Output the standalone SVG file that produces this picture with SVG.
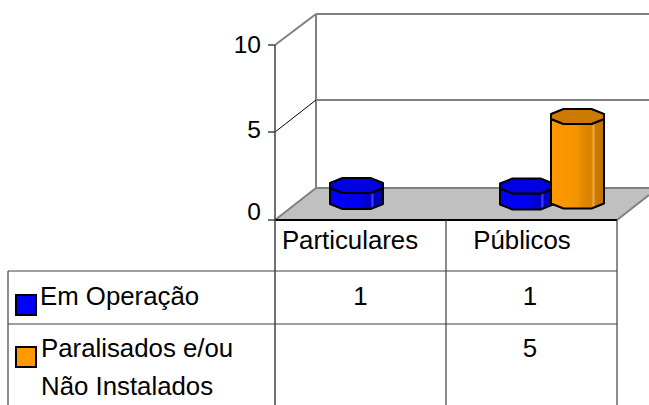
<svg xmlns="http://www.w3.org/2000/svg" width="649" height="405" viewBox="0 0 649 405">
<style>
  text { font-family: "Liberation Sans", Arial, sans-serif; font-size: 25.8px; fill: #000; }
  .ax { font-size: 24.5px; }
  .wall { stroke: #808080; stroke-width: 2; fill: none; }
  .thin { stroke: #000; stroke-width: 1; fill: none; }
  .axis { stroke: #404040; stroke-width: 1.5; fill: none; }
  .grid { stroke: #404040; stroke-width: 1.2; fill: none; }
  .bar { stroke: #000; stroke-width: 2; stroke-linejoin: round; }
  .key { stroke: #000; stroke-width: 2; }
</style>
<defs>
  <linearGradient id="gBlue" x1="0" y1="0" x2="1" y2="0">
    <stop offset="0" stop-color="#0000FF"/>
    <stop offset="0.55" stop-color="#0000F2"/>
    <stop offset="0.62" stop-color="#0000DA"/>
    <stop offset="0.76" stop-color="#0000CC"/>
    <stop offset="0.8" stop-color="#4040F0"/>
    <stop offset="0.84" stop-color="#0000C4"/>
    <stop offset="1" stop-color="#0000B0"/>
  </linearGradient>
  <linearGradient id="gOrange" x1="0" y1="0" x2="1" y2="0">
    <stop offset="0" stop-color="#FF9900"/>
    <stop offset="0.5" stop-color="#F59300"/>
    <stop offset="0.6" stop-color="#E28800"/>
    <stop offset="0.76" stop-color="#D98200"/>
    <stop offset="0.8" stop-color="#F0A840"/>
    <stop offset="0.84" stop-color="#CC7A00"/>
    <stop offset="1" stop-color="#BF7300"/>
  </linearGradient>
</defs>

<g id="walls">
  <polygon points="275,220 316,188 658,188 617,220" fill="#C0C0C0" stroke="none"/>
  <line class="wall" x1="316" y1="188" x2="649" y2="188"/>
  <line class="wall" x1="275" y1="220" x2="316" y2="188"/>
  <line class="wall" x1="617" y1="220" x2="649" y2="195"/>
  <line class="wall" x1="316" y1="14" x2="316" y2="188"/>
  <line class="wall" x1="316" y1="14" x2="649" y2="14"/>
  <line class="wall" x1="275" y1="45" x2="316" y2="14"/>
  <line class="wall" x1="316" y1="100" x2="649" y2="100"/>
  <line class="thin" x1="275" y1="132" x2="316" y2="100"/>
  <line x1="275" y1="220" x2="617" y2="220" stroke="#000" stroke-width="2"/>
</g>

<g id="axis">
  <line class="axis" x1="275" y1="45" x2="275" y2="405"/>
  <line class="axis" x1="268" y1="45" x2="275" y2="45"/>
  <line class="axis" x1="268" y1="132" x2="275" y2="132"/>
  <line class="axis" x1="268" y1="220" x2="275" y2="220"/>
  <text class="ax" x="261" y="53" text-anchor="end">10</text>
  <text class="ax" x="261" y="138" text-anchor="end">5</text>
  <text class="ax" x="261" y="220" text-anchor="end">0</text>
</g>

<g id="bar-particulares-operacao">
  <polygon class="bar" fill="url(#gBlue)" points="330,188 342.5,193 370.5,193 383,188 383,204 370.5,209 342.5,209 330,204"/>
  <polygon class="bar" fill="#0000E0" points="330,183 330,188 342.5,193 370.5,193 383,188 383,183 370.5,178 342.5,178"/>
</g>
<g id="bar-publicos-operacao" transform="translate(170,0.5)">
  <polygon class="bar" fill="url(#gBlue)" points="330,188 342.5,193 370.5,193 383,188 383,204 370.5,209 342.5,209 330,204"/>
  <polygon class="bar" fill="#0000E0" points="330,183 330,188 342.5,193 370.5,193 383,188 383,183 370.5,178 342.5,178"/>
</g>
<g id="bar-publicos-paralisados">
  <polygon class="bar" fill="url(#gOrange)" points="551,119 563.5,124 591.5,124 604,119 604,203.5 591.5,208.5 563.5,208.5 551,203.5"/>
  <polygon class="bar" fill="#CC7A00" points="551,114 551,119 563.5,124 591.5,124 604,119 604,114 591.5,109 563.5,109"/>
</g>

<g id="table">
  <line class="grid" x1="446" y1="220" x2="446" y2="405"/>
  <line class="grid" x1="617" y1="220" x2="617" y2="405"/>
  <line class="grid" x1="8" y1="271" x2="617" y2="271"/>
  <line class="grid" x1="8" y1="324" x2="617" y2="324"/>
  <line class="grid" x1="8" y1="271" x2="8" y2="405"/>
  <text x="350" y="249" text-anchor="middle">Particulares</text>
  <text x="522" y="249" text-anchor="middle">Públicos</text>
  <text x="360.5" y="305" text-anchor="middle">1</text>
  <text x="530" y="305" text-anchor="middle">1</text>
  <text x="530" y="357" text-anchor="middle">5</text>
</g>

<g id="legend-operacao">
  <rect class="key" x="16" y="295" width="20" height="20" fill="#0000FF"/>
  <text x="40" y="305">Em Operação</text>
</g>
<g id="legend-paralisados">
  <rect class="key" x="16" y="347" width="20" height="20" fill="#FF9900"/>
  <text x="41" y="357">Paralisados e/ou</text>
  <text x="41" y="395">Não Instalados</text>
</g>
</svg>
